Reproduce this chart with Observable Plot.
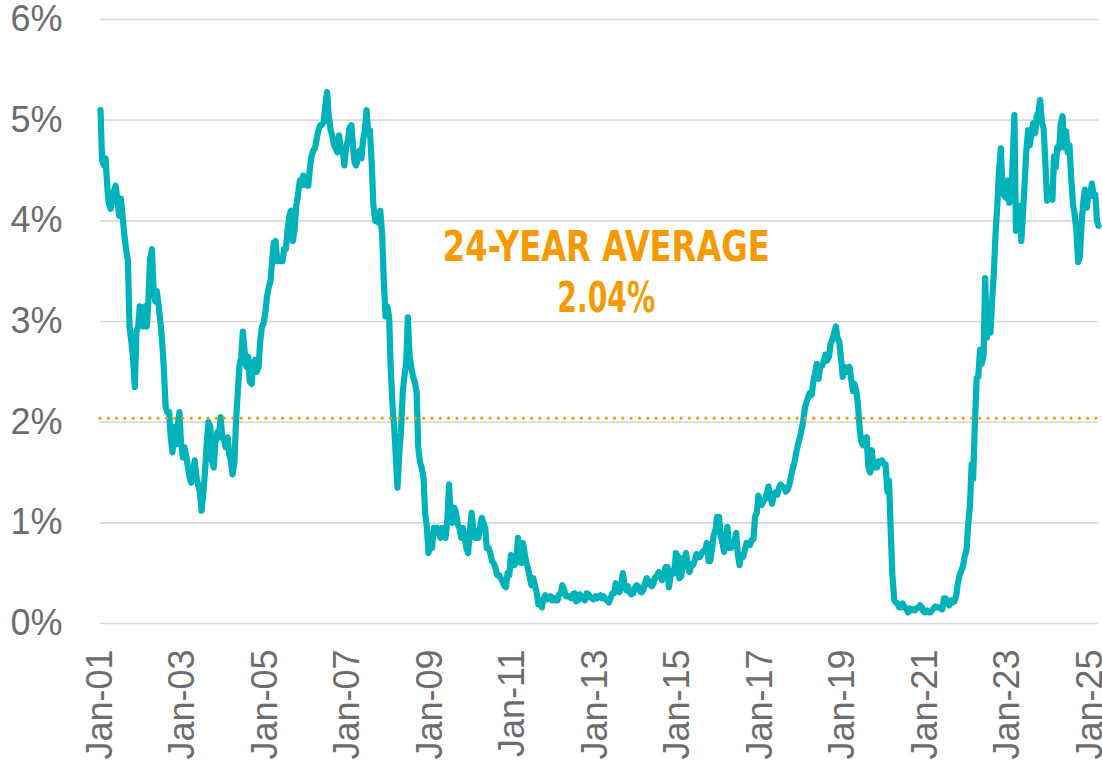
<!DOCTYPE html>
<html>
<head>
<meta charset="utf-8">
<script src="https://cdn.jsdelivr.net/npm/d3@7"></script>
<script src="https://cdn.jsdelivr.net/npm/@observablehq/plot@0.6"></script>
<style>
  html, body { margin: 0; padding: 0; background: #ffffff; }
  #chart { width: 1102px; height: 774px; overflow: hidden; }
  #chart svg { overflow: visible; }
</style>
</head>
<body>
<div id="chart"></div>
<script>
// Semi-monthly readings (1st and 15th of each month), percent
const y2001 = [5.10,4.60,4.55,4.62,4.35,4.18,4.12,4.20,4.30,4.35,4.20,4.05,4.22,4.05,3.85,3.72,3.60,2.95,2.80,2.65,2.35,2.90,2.95,3.15];
const y2002 = [3.10,2.95,3.15,2.95,3.20,3.60,3.72,3.35,3.20,3.30,3.15,3.00,2.80,2.55,2.15,2.10,2.10,1.85,1.70,1.95,1.78,1.95,2.10,1.80];
const y2003 = [1.65,1.75,1.65,1.55,1.45,1.40,1.50,1.62,1.45,1.38,1.30,1.12,1.30,1.50,1.80,2.00,1.95,1.62,1.55,1.80,1.90,1.85,2.05,1.85];
const y2004 = [1.82,1.75,1.85,1.68,1.62,1.48,1.60,2.00,2.30,2.55,2.65,2.90,2.70,2.55,2.65,2.40,2.38,2.58,2.62,2.50,2.55,2.80,2.95,2.98];
const y2005 = [3.10,3.25,3.35,3.40,3.60,3.78,3.80,3.60,3.62,3.60,3.60,3.72,3.72,3.90,4.05,4.10,3.80,3.90,4.15,4.25,4.40,4.35,4.45,4.40];
const y2006 = [4.35,4.35,4.55,4.65,4.70,4.72,4.82,4.90,4.95,4.95,4.98,5.15,5.28,5.05,4.90,4.85,4.75,4.72,4.68,4.85,4.70,4.72,4.55,4.72];
const y2007 = [4.80,4.92,4.95,4.75,4.58,4.55,4.62,4.70,4.62,4.80,4.90,5.10,4.87,4.90,4.55,4.15,4.00,4.05,3.98,4.10,3.85,3.40,3.05,3.15];
const y2008 = [3.05,2.55,2.15,1.95,1.65,1.35,1.70,1.90,2.30,2.45,2.60,3.04,2.65,2.55,2.45,2.40,2.30,1.75,1.60,1.55,1.45,1.10,0.95,0.70];
const y2009 = [0.78,0.75,0.95,0.95,0.95,0.90,0.85,0.95,0.90,0.85,1.05,1.38,1.05,1.00,1.15,1.10,0.98,0.95,0.85,0.95,0.85,0.75,0.70,0.90];
const y2010 = [1.10,0.95,0.85,0.85,0.85,0.95,1.05,1.00,0.95,0.75,0.75,0.70,0.62,0.60,0.55,0.48,0.48,0.45,0.42,0.38,0.36,0.50,0.48,0.68];
const y2011 = [0.62,0.58,0.62,0.85,0.70,0.60,0.80,0.70,0.60,0.55,0.45,0.38,0.45,0.38,0.30,0.19,0.20,0.16,0.25,0.28,0.24,0.26,0.27,0.23];
const y2012 = [0.25,0.23,0.23,0.29,0.30,0.38,0.33,0.27,0.27,0.27,0.25,0.29,0.30,0.22,0.23,0.29,0.25,0.26,0.23,0.30,0.29,0.26,0.25,0.24];
const y2013 = [0.27,0.25,0.27,0.28,0.25,0.27,0.24,0.23,0.21,0.25,0.30,0.30,0.40,0.32,0.31,0.36,0.50,0.40,0.33,0.37,0.31,0.29,0.30,0.35];
const y2014 = [0.38,0.37,0.32,0.31,0.33,0.40,0.45,0.39,0.42,0.37,0.40,0.46,0.47,0.51,0.47,0.43,0.50,0.56,0.56,0.36,0.50,0.53,0.50,0.70];
const y2015 = [0.67,0.45,0.47,0.65,0.63,0.70,0.55,0.51,0.59,0.58,0.63,0.69,0.66,0.66,0.70,0.72,0.72,0.80,0.62,0.62,0.75,0.88,0.93,1.06];
const y2016 = [1.06,0.87,0.80,0.71,0.85,0.96,0.75,0.75,0.77,0.80,0.90,0.69,0.58,0.68,0.66,0.72,0.80,0.78,0.78,0.83,0.84,1.06,1.10,1.27];
const y2017 = [1.20,1.18,1.22,1.24,1.30,1.36,1.25,1.19,1.28,1.30,1.28,1.35,1.38,1.36,1.35,1.31,1.33,1.38,1.47,1.54,1.61,1.70,1.78,1.84];
const y2018 = [1.92,2.01,2.15,2.20,2.25,2.29,2.27,2.40,2.49,2.58,2.43,2.55,2.56,2.60,2.67,2.61,2.65,2.78,2.82,2.88,2.95,2.84,2.80,2.65];
const y2019 = [2.45,2.55,2.50,2.52,2.55,2.44,2.31,2.38,2.31,2.18,1.92,1.80,1.77,1.82,1.85,1.56,1.50,1.72,1.55,1.60,1.55,1.61,1.61,1.62];
const y2020 = [1.58,1.58,1.31,1.42,0.91,0.49,0.23,0.21,0.20,0.16,0.16,0.20,0.16,0.15,0.11,0.15,0.13,0.14,0.13,0.15,0.16,0.18,0.16,0.12];
const y2021 = [0.11,0.13,0.11,0.11,0.13,0.15,0.17,0.16,0.16,0.15,0.14,0.25,0.25,0.22,0.18,0.23,0.21,0.22,0.27,0.39,0.48,0.52,0.57,0.66];
const y2022 = [0.73,0.97,1.18,1.58,1.44,1.95,2.44,2.45,2.72,2.58,2.66,3.43,2.84,3.13,2.89,3.19,3.50,3.87,4.15,4.48,4.72,4.36,4.25,4.23];
const y2023 = [4.40,4.18,4.21,4.62,5.05,3.90,3.95,4.15,3.80,4.05,4.40,4.70,4.90,4.75,4.88,4.97,4.87,5.04,5.08,5.20,4.97,4.92,4.56,4.20];
const y2024 = [4.33,4.22,4.21,4.64,4.53,4.73,4.72,4.97,5.04,4.73,4.89,4.68,4.75,4.45,4.16,4.07,3.90,3.59,3.64,3.96,4.20,4.31,4.13,4.25];
const y2025 = [4.25,4.37,4.24,4.26,4.00,3.95];

const yearSeries = [y2001,y2002,y2003,y2004,y2005,y2006,y2007,y2008,y2009,y2010,y2011,y2012,
                    y2013,y2014,y2015,y2016,y2017,y2018,y2019,y2020,y2021,y2022,y2023,y2024,y2025];
const firstYear = 2001;

const averageValue = 2.04;
const averageLabel = ["24-YEAR AVERAGE", "2.04%"];
const yTicks = [0, 1, 2, 3, 4, 5, 6];
const xTickYears = [2001,2003,2005,2007,2009,2011,2013,2015,2017,2019,2021,2023,2025];

// build table
const series = [];
yearSeries.forEach((vals, yi) => {
  vals.forEach((v, i) => {
    series.push({date: new Date(Date.UTC(firstYear + yi, Math.floor(i / 2), i % 2 ? 15 : 1)), value: v});
  });
});

const xTicks = xTickYears.map(y => new Date(Date.UTC(y, 0, 1)));
const labelDate = new Date(Date.UTC(2013, 3, 8));

const orange = "#f59a00";
const teal = "#00b2b9";

const chart = Plot.plot({
  width: 1102,
  height: 774,
  marginLeft: 100,
  marginRight: 4,
  marginTop: 19,
  marginBottom: 151,
  style: {fontFamily: "'Liberation Sans', Arial, sans-serif", color: "#6d6d6d", background: "#ffffff", overflow: "visible"},
  x: {type: "utc", domain: [new Date(Date.UTC(2001, 0, 1)), new Date(Date.UTC(2025, 2, 15))]},
  y: {domain: [0, 6]},
  marks: [
    Plot.ruleY(yTicks, {stroke: "#d9d9d9", strokeWidth: 1.6}),
    Plot.line(series, {x: "date", y: "value", stroke: teal, strokeWidth: 6.2, strokeLinejoin: "round", strokeLinecap: "round"}),
    Plot.ruleY([averageValue], {stroke: orange, strokeWidth: 3.2, strokeDasharray: "0 8.3", strokeLinecap: "round"}),
    Plot.text([averageLabel[0]], {x: () => labelDate, y: () => averageValue + 1.69, text: d => d, fill: orange, fontSize: 42, fontWeight: "bold", lineAnchor: "middle", className: "avg-label-1"}),
    Plot.text([averageLabel[1]], {x: () => labelDate, y: () => averageValue + 1.19, text: d => d, fill: orange, fontSize: 42, fontWeight: "bold", lineAnchor: "middle", className: "avg-label-2"}),
    Plot.axisY({ticks: yTicks, tickSize: 0, tickPadding: 38, fontSize: 36, tickFormat: d => d + "%", label: null}),
    Plot.axisX({ticks: xTicks, tickSize: 0, tickPadding: 26, fontSize: 36, tickRotate: -90, tickFormat: d => "Jan-" + String(d.getUTCFullYear() % 100).padStart(2, "0"), label: null})
  ]
});

document.getElementById("chart").appendChild(chart);

// condensed look for annotation
const narrowFont = "'Liberation Sans Narrow', 'DejaVu Sans Condensed', 'Roboto Condensed', sans-serif";
[[".avg-label-1 text", 327], [".avg-label-2 text", 98]].forEach(([sel, len]) => {
  chart.querySelectorAll(sel).forEach(t => {
    t.setAttribute("font-family", narrowFont);
    t.style.fontFamily = narrowFont;
    t.setAttribute("textLength", len);
    t.setAttribute("lengthAdjust", "spacingAndGlyphs");
  });
});
</script>
</body>
</html>
